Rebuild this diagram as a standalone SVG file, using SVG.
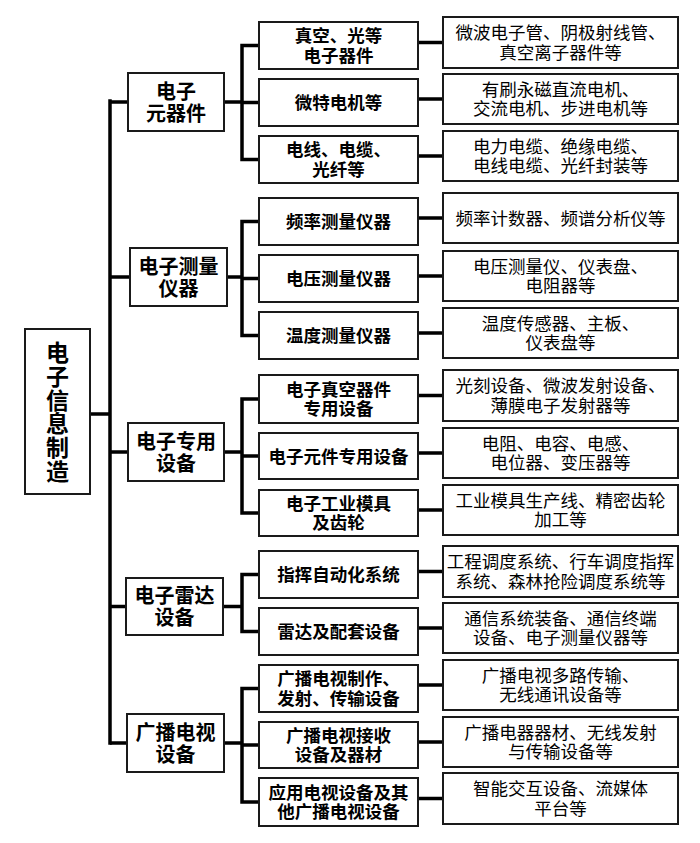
<svg xmlns="http://www.w3.org/2000/svg" width="700" height="843" viewBox="0 0 700 843">
<style>
.box{fill:#fff;stroke:#1a1a1a;stroke-width:2}
.ln{fill:none;stroke:#000;stroke-width:3.5;stroke-linejoin:miter}
text{font-family:"Noto Sans CJK SC","Noto Sans",sans-serif;fill:#000;text-anchor:middle}
.r{font-size:23px;font-weight:700}
.l1{font-size:20px;font-weight:700}
.l2{font-size:17.5px;font-weight:700}
.l3{font-size:17.5px;font-weight:400}
</style>
<rect width="700" height="843" fill="#fff"/>
<g id="connectors">
<path class="ln" d="M90,414H110M110,99.3V744.7"/>
<path class="ln" d="M110,102H128M110,277H130M110,452H128M110,606.5H126M110,743H127"/>
<path class="ln" d="M224,102H242M259,45.5H242V159.5H259M242,102.5H259"/>
<path class="ln" d="M227,277H242M259,221.5H242V335.5H259M242,278.5H259"/>
<path class="ln" d="M224,452H242M259,399H242V513H259M242,456H259"/>
<path class="ln" d="M223,606.5H242M259,574.5H242V631.5H259"/>
<path class="ln" d="M224,743H242M259,688.5H242V802H259M242,745H259"/>
<path class="ln" d="M418,42.5H443M418,99H443M418,156H443M418,218H443M418,276H443M418,333H443M418,395.5H443M418,453H443M418,510H443M418,571.5H443M418,628H443M418,685H443M418,742H443M418,798.5H443"/>
</g>
<g id="root"><rect class="box" x="25" y="329" width="65" height="165"/>
<text class="r" x="57.5" y="360.9">电</text><text class="r" x="57.5" y="384.7">子</text><text class="r" x="57.5" y="408.5">信</text><text class="r" x="57.5" y="432.3">息</text><text class="r" x="57.5" y="456.1">制</text><text class="r" x="57.5" y="479.9">造</text></g>
<g id="g1"><rect class="box" x="128" y="73" width="96" height="58"/><text class="l1" x="176" y="99">电子</text><text class="l1" x="176" y="121">元器件</text></g>
<g id="g2"><rect class="box" x="130" y="248" width="97" height="58"/><text class="l1" x="178.5" y="273.6">电子测量</text><text class="l1" x="178.5" y="295.6">仪器</text></g>
<g id="g3"><rect class="box" x="128" y="423" width="96" height="58"/><text class="l1" x="176" y="448.6">电子专用</text><text class="l1" x="176" y="470.6">设备</text></g>
<g id="g4"><rect class="box" x="126" y="578" width="97" height="57"/><text class="l1" x="174.5" y="603.1">电子雷达</text><text class="l1" x="174.5" y="625.1">设备</text></g>
<g id="g5"><rect class="box" x="127" y="714" width="97" height="58"/><text class="l1" x="175.5" y="739.6">广播电视</text><text class="l1" x="175.5" y="761.6">设备</text></g>

<g id="g1a"><rect class="box" x="259" y="22" width="159" height="47"/><text class="l2" x="338.5" y="42.4">真空、光等</text><text class="l2" x="338.5" y="61.9">电子器件</text></g>
<g id="g1b"><rect class="box" x="259" y="79" width="159" height="47"/><text class="l2" x="338.5" y="109.2">微特电机等</text></g>
<g id="g1c"><rect class="box" x="259" y="136" width="159" height="47"/><text class="l2" x="338.5" y="156.4">电线、电缆、</text><text class="l2" x="338.5" y="175.9">光纤等</text></g>
<g id="g2a"><rect class="box" x="259" y="198" width="159" height="47"/><text class="l2" x="338.5" y="228.2">频率测量仪器</text></g>
<g id="g2b"><rect class="box" x="259" y="255" width="159" height="47"/><text class="l2" x="338.5" y="285.2">电压测量仪器</text></g>
<g id="g2c"><rect class="box" x="259" y="312" width="159" height="47"/><text class="l2" x="338.5" y="342.2">温度测量仪器</text></g>
<g id="g3a"><rect class="box" x="259" y="375" width="159" height="48"/><text class="l2" x="338.5" y="395.9">电子真空器件</text><text class="l2" x="338.5" y="415.4">专用设备</text></g>
<g id="g3b"><rect class="box" x="259" y="433" width="159" height="46"/><text class="l2" x="338.5" y="462.7">电子元件专用设备</text></g>
<g id="g3c"><rect class="box" x="259" y="490" width="159" height="46"/><text class="l2" x="338.5" y="509.9">电子工业模具</text><text class="l2" x="338.5" y="529.4">及齿轮</text></g>
<g id="g4a"><rect class="box" x="259" y="551" width="159" height="47"/><text class="l2" x="338.5" y="581.2">指挥自动化系统</text></g>
<g id="g4b"><rect class="box" x="259" y="608" width="159" height="47"/><text class="l2" x="338.5" y="638.2">雷达及配套设备</text></g>
<g id="g5a"><rect class="box" x="259" y="665" width="159" height="47"/><text class="l2" x="338.5" y="685.4">广播电视制作、</text><text class="l2" x="338.5" y="704.9">发射、传输设备</text></g>
<g id="g5b"><rect class="box" x="259" y="722" width="159" height="46"/><text class="l2" x="338.5" y="741.9">广播电视接收</text><text class="l2" x="338.5" y="761.4">设备及器材</text></g>
<g id="g5c"><rect class="box" x="259" y="778" width="159" height="48"/><text class="l2" x="338.5" y="798.9">应用电视设备及其</text><text class="l2" x="338.5" y="818.4">他广播电视设备</text></g>

<g id="g1a1"><rect class="box" x="443" y="17" width="235" height="51"/><text class="l3" x="560.5" y="39.4">微波电子管、阴极射线管、</text><text class="l3" x="560.5" y="58.9">真空离子器件等</text></g>
<g id="g1b1"><rect class="box" x="443" y="74" width="235" height="50"/><text class="l3" x="560.5" y="95.9">有刷永磁直流电机、</text><text class="l3" x="560.5" y="115.4">交流电机、步进电机等</text></g>
<g id="g1c1"><rect class="box" x="443" y="131" width="235" height="50"/><text class="l3" x="560.5" y="152.9">电力电缆、绝缘电缆、</text><text class="l3" x="560.5" y="172.4">电线电缆、光纤封装等</text></g>
<g id="g2a1"><rect class="box" x="443" y="193" width="235" height="50"/><text class="l3" x="560.5" y="224.7">频率计数器、频谱分析仪等</text></g>
<g id="g2b1"><rect class="box" x="443" y="251" width="235" height="50"/><text class="l3" x="560.5" y="272.9">电压测量仪、仪表盘、</text><text class="l3" x="560.5" y="292.4">电阻器等</text></g>
<g id="g2c1"><rect class="box" x="443" y="308" width="235" height="50"/><text class="l3" x="560.5" y="329.9">温度传感器、主板、</text><text class="l3" x="560.5" y="349.4">仪表盘等</text></g>
<g id="g3a1"><rect class="box" x="443" y="370" width="235" height="51"/><text class="l3" x="560.5" y="392.4">光刻设备、微波发射设备、</text><text class="l3" x="560.5" y="411.9">薄膜电子发射器等</text></g>
<g id="g3b1"><rect class="box" x="443" y="428" width="235" height="50"/><text class="l3" x="560.5" y="449.9">电阻、电容、电感、</text><text class="l3" x="560.5" y="469.4">电位器、变压器等</text></g>
<g id="g3c1"><rect class="box" x="443" y="485" width="235" height="50"/><text class="l3" x="560.5" y="506.9">工业模具生产线、精密齿轮</text><text class="l3" x="560.5" y="526.4">加工等</text></g>
<g id="g4a1"><rect class="box" x="443" y="546" width="235" height="51"/><text class="l3" x="560.5" y="568.4">工程调度系统、行车调度指挥</text><text class="l3" x="560.5" y="587.9">系统、森林抢险调度系统等</text></g>
<g id="g4b1"><rect class="box" x="443" y="603" width="235" height="50"/><text class="l3" x="560.5" y="624.9">通信系统装备、通信终端</text><text class="l3" x="560.5" y="644.4">设备、电子测量仪器等</text></g>
<g id="g5a1"><rect class="box" x="443" y="660" width="235" height="50"/><text class="l3" x="560.5" y="681.9">广播电视多路传输、</text><text class="l3" x="560.5" y="701.4">无线通讯设备等</text></g>
<g id="g5b1"><rect class="box" x="443" y="717" width="235" height="50"/><text class="l3" x="560.5" y="738.9">广播电器器材、无线发射</text><text class="l3" x="560.5" y="758.4">与传输设备等</text></g>
<g id="g5c1"><rect class="box" x="443" y="773" width="235" height="51"/><text class="l3" x="560.5" y="795.4">智能交互设备、流媒体</text><text class="l3" x="560.5" y="814.9">平台等</text></g>
</svg>
